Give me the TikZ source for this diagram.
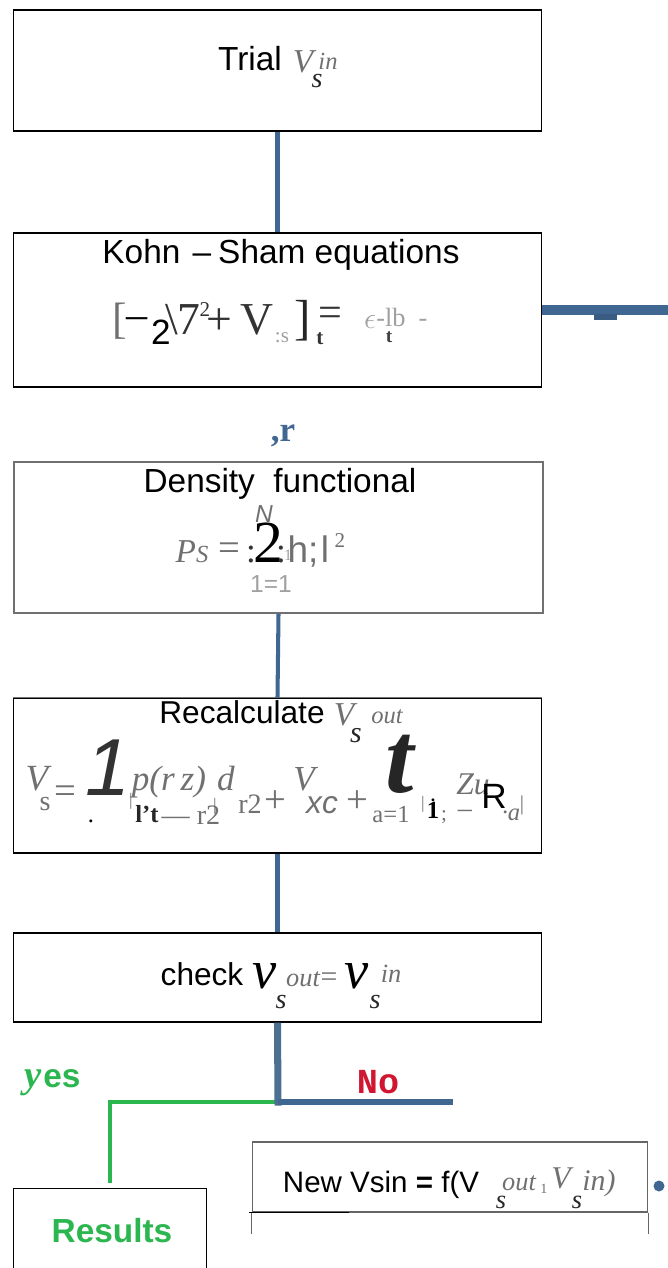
\documentclass[tikz,border=0pt]{standalone}
\usepackage{fontspec}
\setmainfont{Liberation Serif}
\setsansfont{Liberation Sans}
\setmonofont{Liberation Mono}
\usepackage{xcolor}
\usetikzlibrary{positioning}
\definecolor{qblue}{RGB}{64,102,146}
\definecolor{qsteel}{RGB}{76,112,144}
\definecolor{qgreen}{RGB}{44,182,80}
\definecolor{qred}{RGB}{208,22,48}
\definecolor{qgray}{RGB}{112,112,112}
\definecolor{qlight}{RGB}{160,160,160}
\newcommand{\fsz}[1]{\fontsize{#1}{#1}\selectfont}

\begin{document}
\begin{tikzpicture}[x=0.02cm, y=-0.02cm,
  box/.style={draw, line width=0.6pt, inner sep=0pt, minimum width=10.58cm},
  head/.style={anchor=base, inner sep=0pt, font=\sffamily\fsz{19}},
  sym/.style={anchor=base, inner sep=0pt, text=qgray},
  flow/.style={draw=qblue, line width=2.3pt}]
\useasboundingbox (0,0) rectangle (668,1268);

% boxes
\node[box, minimum height=2.42cm] (trial) at (277.5,70.5) {};
\node[box, minimum height=3.08cm] (kohn) at (277.5,310) {};
\node[box, minimum height=3.02cm, draw=qgray, line width=1.1pt] (dens) at (278.5,537.5) {};
\node[box, minimum height=3.1cm] (recalc) at (277.5,775.5) {};
\draw[black!55, line width=1.1pt] (recalc.north west) -- (recalc.north east);
\node[box, minimum height=1.78cm] (check) at (277.5,977.5) {};
\node[box, minimum width=3.86cm, minimum height=2.4cm] (results) at (110,1248) {};
\node[box, minimum width=7.92cm, minimum height=1.4cm, draw=black!60] (newvs) at (450,1177) {};
\draw[black!60, line width=0.6pt] (newvs.south west) -- ++(0,21);
\draw[black!60, line width=0.6pt] (newvs.south east) -- ++(0,21);
\draw[black, line width=0.7pt] (newvs.south west) ++(-3,0) -- ++(100,0);

% connectors
\coordinate (busend) at (668,310);
\coordinate (split) at (278,1102);
\coordinate (noend) at (453,1102);
\draw[flow] (trial.south) -- (kohn.north);
\draw[draw=qblue, line width=5.2pt] (kohn.east) -- (busend);
\fill[qblue!90!black] (594,314) rectangle (617,320);
\draw[flow] (dens.south) -- (recalc.north);
\draw[flow] (recalc.south) -- (check.north);
\draw[draw=qgreen, line width=2.8pt, shorten >=2.8pt] (split) -| (results.north);
\draw[draw=qsteel, line width=4pt, shorten >=-2pt] (check.south) -- (split);
\draw[draw=qblue, line width=3.4pt] (split) -- (noend);
\node[circle, fill=qblue, inner sep=0pt, minimum size=0.22cm] (dot) at (659,1186) {};

% trial
\node[head] (triallbl) at (250,70) {Trial};
\node[sym, font=\itshape\fsz{19}] (trialv) at (303,72) {V};
\node[sym, font=\itshape\fsz{14}] (trialin) at (328,69) {in};
\node[sym, text=black!85, font=\itshape\fsz{16}] (trials) at (317,87) {s};

% kohn-sham
\node[head] (kohnlbl) at (281,263) {Kohn\hspace{7pt}–\hspace{4pt}Sham equations};
\node[sym, font=\fsz{25}] (ks1) at (120,333) {[};
\node[sym, text=black, font=\fsz{24}] (ks2) at (137,328) {–};
\node[sym, text=black, font=\sffamily\fsz{20}] (ks3) at (161,344) {2};
\node[sym, text=black!80, font=\fsz{26}] (ks4) at (183,334) {\textbackslash7};
\node[sym, text=black!80, font=\fsz{12}] (ks5) at (205,316) {2};
\node[sym, text=black!80, font=\fsz{26}] (ks6) at (240,334) {+\,V};
\node[sym, text=qlight, font=\fsz{12}] (ks7) at (282,342) {:s};
\node[sym, text=black!85, font=\fsz{28}] (ks8) at (303,334) {]};
\node[sym, text=black!80, font=\fsz{24}] (ks9) at (330,326) {=};
\node[sym, text=black!80, font=\bfseries\fsz{12}] (ks10) at (320,344) {t};
\node[sym, text=qlight, font=\fsz{16}] (ks11) at (370,328) {$\epsilon$};
\node[sym, text=qlight, font=\fsz{15}] (ks12) at (391,326) {-lb};
\node[sym, text=black!75, font=\bfseries\fsz{11}] (ks13) at (389,342) {t};
\node[sym, text=qlight, font=\fsz{15}] (ks14) at (423,326) {-};
\node[sym, text=qblue, font=\bfseries\fsz{20}] (rmark) at (283,441) {,r};

% density
\node[head] (denslbl) at (280,492) {Density\ \ functional};
\node[sym, font=\itshape\fsz{19}] (ps) at (192,562) {P\fsz{14}S};
\node[sym, font=\fsz{22}] (dseq) at (229,560) {=};
\node[sym, text=black!80, font=\fsz{20}] (dcol1) at (251,562) {:};
\node[sym, text=black, font=\fsz{34}] (dsum) at (268,562) {2};
\node[sym, text=black!80, font=\fsz{20}] (dcol2) at (281,562) {:};
\node[sym, font=\sffamily\itshape\fsz{14}] (dn) at (264,522) {N};
\node[sym, text=qlight, font=\fsz{9}] (dsub) at (288,560) {1};
\node[sym, text=qgray, font=\sffamily\fsz{21}] (dh) at (303,562) {h;};
\node[sym, text=qgray, font=\sffamily\fsz{21}] (dbar) at (325,562) {l};
\node[sym, font=\fsz{12}] (dsq) at (340,547) {2};
\node[sym, text=qlight, font=\sffamily\fsz{14}] (dlim) at (271,592) {1=1};

% recalculate
\node[head, font=\sffamily\fsz{18}] (recalclbl) at (242,723) {Recalculate};
\node[sym, font=\itshape\fsz{19}] (rv) at (344,725) {V};
\node[sym, text=black!85, font=\itshape\fsz{17}] (rs) at (356,742) {s};
\node[sym, font=\itshape\fsz{14}] (rout) at (387,723) {out};
\node[sym, font=\itshape\fsz{21}] (vs) at (37,790) {V};
\node[sym, font=\fsz{16}] (vss) at (45,810) {s};
\node[sym, font=\fsz{22}] (veq) at (65,803) {=};
\node[sym, text=black!80, font=\sffamily\itshape\fsz{46}] (vint) at (108,795) {1};
\node[sym, text=black, font=\fsz{14}] (vdot) at (91,822) {.};
\node[sym, font=\fsz{10}] (vb1) at (131,805) {|};
\node[sym, font=\itshape\fsz{20}] (vrho) at (169,790) {p(r\,z)};
\node[sym, text=black!85, font=\bfseries\fsz{14}] (vlt) at (147,822) {l't};
\node[sym, font=\fsz{16}] (vr2) at (191,824) {— r2};
\node[sym, font=\fsz{10}] (vb2) at (215,810) {|};
\node[sym, font=\itshape\fsz{20}] (vd) at (226,790) {d};
\node[sym, font=\fsz{16}] (vdr) at (250,813) {r2};
\node[sym, font=\fsz{22}] (vplus1) at (275,812) {+};
\node[sym, font=\itshape\fsz{20}] (vxc) at (304,790) {V};
\node[sym, font=\sffamily\itshape\fsz{18}] (vxcs) at (322,813) {xc};
\node[sym, font=\fsz{22}] (vplus2) at (357,812) {+};
\node[sym, text=black!85, font=\bfseries\itshape\fsz{58}] (vsum) at (400,792) {t};
\node[sym, font=\fsz{14}] (vsuma) at (391,822) {a=1};
\node[sym, font=\fsz{10}] (vb3) at (423,808) {|};
\node[sym, text=black, font=\bfseries\fsz{14}] (vone) at (433,818) {1};
\node[sym, text=black, font=\bfseries\fsz{10}] (vonedot) at (433,801) {.};
\node[sym, font=\fsz{12}] (vsemi) at (444,820) {;};
\node[sym, font=\fsz{16}] (vminus) at (465,817) {–};
\node[sym, font=\itshape\fsz{18}] (vzu) at (473,794) {Zu};
\node[sym, text=black, font=\sffamily\fsz{20}] (vR) at (494,808) {R};
\node[sym, font=\itshape\fsz{14}] (va) at (511,820) {\textperiodcentered a};
\node[sym, font=\fsz{12}] (vb4) at (522,810) {|};

% check
\node[head, font=\sffamily\fsz{18}] (checklbl) at (202,985) {check};
\node[sym, text=black, font=\itshape\fsz{31}] (cv1) at (265,988) {v};
\node[sym, text=black!85, font=\itshape\fsz{16}] (cs1) at (281,1008) {s};
\node[sym, font=\itshape\fsz{15}] (cout) at (303,986) {out};
\node[sym, font=\fsz{17}] (ceq) at (329,986) {=};
\node[sym, text=black, font=\itshape\fsz{31}] (cv2) at (357,988) {v};
\node[sym, text=black!85, font=\itshape\fsz{16}] (cs2) at (375,1008) {s};
\node[sym, font=\itshape\fsz{15}] (cin) at (391,982) {in};

% yes / no
\node[sym, text=qgreen, font=\bfseries\itshape\fsz{22}] (yesy) at (33,1087) {y};
\node[sym, text=qgreen, font=\sffamily\bfseries\fsz{19}] (yeses) at (62,1087) {es};
\node[sym, text=qred, font=\ttfamily\bfseries\fsz{20}] (nolbl) at (378,1093) {No};
\node[sym, text=qgreen, font=\sffamily\bfseries\fsz{19}] (reslbl) at (112,1242) {Results};

% new Vs
\node[head, font=\sffamily\fsz{16.8}] (newlbl) at (381,1192) {New\ Vsin \textbf{=} f(V};
\node[sym, font=\itshape\fsz{15}] (nout) at (519,1190) {out};
\node[sym, text=black!85, font=\itshape\fsz{15}] (ns1) at (501,1208) {s};
\node[sym, font=\fsz{8}] (ncomma) at (544,1193) {1};
\node[sym, font=\itshape\fsz{18}] (nv) at (561,1188) {V};
\node[sym, text=black!85, font=\itshape\fsz{15}] (ns2) at (577,1208) {s};
\node[sym, font=\itshape\fsz{17}] (nin) at (599,1190) {in)};
\end{tikzpicture}
\end{document}
